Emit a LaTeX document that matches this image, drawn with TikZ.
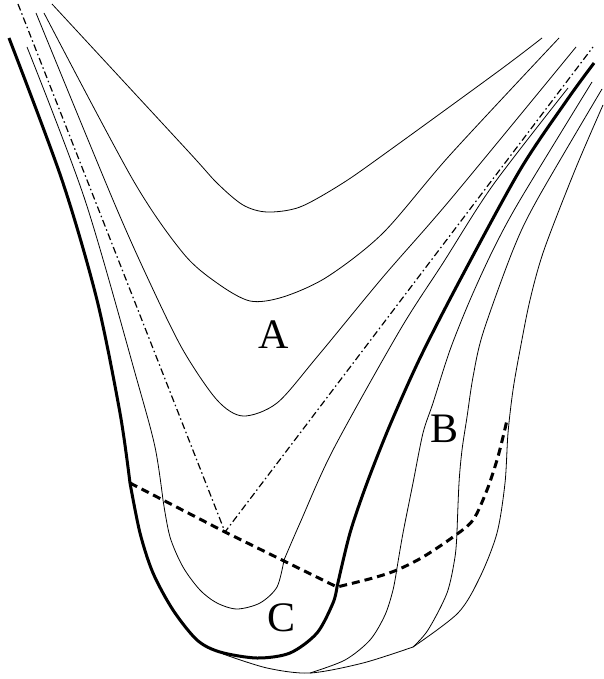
\documentclass[tikz,border=0pt]{standalone}
\usepackage{fontspec}
\setmainfont{Liberation Serif}
\begin{document}
\begin{tikzpicture}[x=1pt,y=-1pt,
  thinline/.style={line width=0.8pt, line join=round},
  thickline/.style={line width=3pt, line join=round},
  shockline/.style={line width=3pt, dash pattern=on 8pt off 5pt},
  axisline/.style={line width=1.2pt, dash pattern=on 7pt off 3pt on 1.5pt off 3pt},
  lbl/.style={anchor=base, inner sep=0pt, font=\fontsize{42}{42}\selectfont}]
\useasboundingbox (0,0) rectangle (603,679);

% key points
\coordinate (V) at (225,532);
\coordinate (K1) at (130,483);
\coordinate (K2) at (337,587);
\coordinate (DT1) at (18,4);
\coordinate (DT2) at (593,47);

% hyperbolas of region A
\draw[thinline] plot[smooth] coordinates {(52,4) (187,150) (217,183) (243,205) (267,212) (300,207) (343,183) (390,150) (500,70) (542,38)};
\draw[thinline] plot[smooth] coordinates {(44,13) (133,180) (183,253) (217,283) (250,301) (283,297) (327,277) (383,233) (450,155) (559,38)};
\draw[thinline] plot[smooth] coordinates {(36,13) (113,200) (150,283) (183,350) (217,400) (243,416) (277,403) (317,357) (383,277) (450,200) (576,47)};

% dash-dot lines
\draw[axisline] (DT1) -- (V) -- (DT2);

% thick curve
\draw[thickline] plot[smooth] coordinates {(9,38) (62,180) (97,300) (120,413) (K1)}
  -- plot[smooth] coordinates {(K1) (140,533) (153,573) (173,610) (197,640) (220,652) (257,658) (290,653) (317,633) (333,603) (K2)}
  -- plot[smooth] coordinates {(K2) (350,533) (367,483) (390,425) (420,358) (460,280) (520,170) (567,100) (594,63)};

% inner thin U (region C)
\draw[thinline] plot[smooth] coordinates {(27,47) (85,200) (137,380) (155,447) (163,500)}
  -- plot[smooth] coordinates {(163,500) (170,537) (183,567) (200,590) (217,603) (237,609) (260,603) (277,587) (284,560)}
  -- plot[smooth] coordinates {(284,560) (300,523) (333,450) (400,330) (443,263) (493,185) (568,88)};

% lines of region B
\draw[thinline] plot[smooth] coordinates {(592,82) (520,200) (493,250) (470,300) (450,350) (433,403) (423,433) (413,483) (403,533) (397,568)}
  -- plot[smooth] coordinates {(397,568) (393,590) (385,615) (370,640) (345,660) (310,673)};
\draw[thinline] plot[smooth] coordinates {(602,89) (537,200) (513,250) (483,333) (473,377) (467,417) (462,450) (459,483) (457,532)}
  -- plot[smooth] coordinates {(457,532) (455,557) (447,593) (428,630) (413,647)};
\draw[thinline] plot[smooth] coordinates {(603,105) (575,170) (544,250) (530,300) (520,350) (513,390) (508,433) (505,483) (497,533) (480,577) (458,613) (413,647)}
  -- plot[smooth] coordinates {(413,647) (363,663) (310,673) (267,668) (223,654)};

% thick dashed curve
\draw[shockline] (K1) -- (V) -- (K2)
  -- plot[smooth] coordinates {(K2) (373,578) (397,570) (423,557) (453,537) (473,520) (487,490) (497,460) (503,437) (507,420)};

% labels
\node[lbl] (la) at (274,348) {A};
\node[lbl] (lb) at (444,442) {B};
\node[lbl] (lc) at (282,631) {C};
\end{tikzpicture}
\end{document}
